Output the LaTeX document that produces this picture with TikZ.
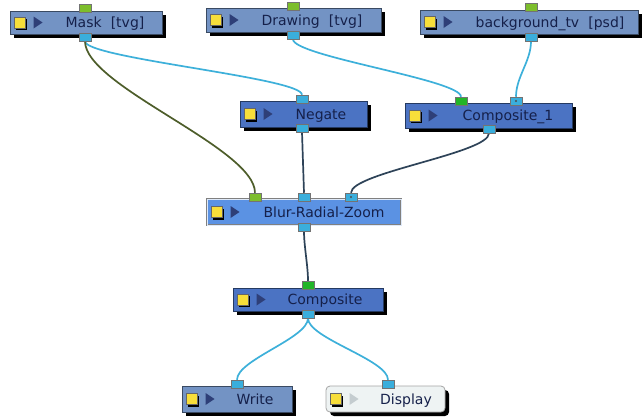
\documentclass[tikz,border=0pt]{standalone}
\usepackage{fontspec}
\setmainfont{DejaVu Sans}
\usetikzlibrary{fit,shadows,calc}
\pgfdeclarelayer{background}
\pgfsetlayers{background,main}
\definecolor{tvgblue}{HTML}{7393C4}
\definecolor{fxblue}{HTML}{4B73C3}
\definecolor{selblue}{HTML}{5B92E3}
\definecolor{dispbg}{HTML}{EEF3F3}
\definecolor{portlime}{HTML}{7DBE2C}
\definecolor{portgreen}{HTML}{22B528}
\definecolor{portcyan}{HTML}{3AAEDC}
\definecolor{wirecyan}{HTML}{3DB0DA}
\definecolor{wireolive}{HTML}{4D5D2A}
\definecolor{wiredark}{HTML}{2E4358}
\definecolor{txtcol}{HTML}{15204A}
\definecolor{tricol}{HTML}{2E3F78}
\definecolor{trilight}{HTML}{C4CCCF}
\definecolor{iconyellow}{HTML}{F7DE3A}
\newcommand\fxnode[9]{%
  \node[#6, fit={(#2,#3)(#4,#5)}] (#1) {};
  \node[iconbox] (#1-icon) at ($(#1.west)+(10,0)$) {};
  \fill[#9] ($(#1.west)+(24,-6)$) -- ++(9,6) -- ++(-9,6) -- cycle;
  \node[lbl] (#1-label) at ($(#8,0 |- #1.center)+(0,5)$) {#7};
}
\begin{document}
\begin{tikzpicture}[x=1pt,y=-1pt,
  basebox/.style={inner sep=0pt, line width=0.8pt},
  shadowed/.style={drop shadow={shadow xshift=4pt, shadow yshift=-4pt, fill=black, opacity=1}},
  topbox/.style={basebox, shadowed, fill=tvgblue, draw=tvgblue!50!black},
  fxbox/.style={basebox, shadowed, fill=fxblue, draw=fxblue!50!black},
  selbox/.style={basebox, fill=selblue, draw=black!50, double=white!80!selblue, double distance=0.8pt},
  dispbox/.style={basebox, shadowed, fill=dispbg, draw=black!35, rounded corners=4pt},
  iconbox/.style={fill=iconyellow, draw=black!60, line width=0.4pt, minimum size=11pt, inner sep=0pt,
     drop shadow={shadow xshift=2pt, shadow yshift=-2pt, fill=black, opacity=1}},
  lbl/.style={anchor=base, font=\fontsize{14}{16}\selectfont, text=txtcol, inner sep=0pt},
  port/.style={draw=black!55, fill=#1, minimum width=12pt, minimum height=8pt, inner sep=0pt, line width=0.5pt},
  wire/.style={line width=1.7pt, draw=#1}]
\useasboundingbox (0,0) rectangle (642,416);

% nodes
\fxnode{mask}{10}{11}{162}{34}{topbox}{Mask\hspace{0.65em}[tvg]}{105}{tricol}
\fxnode{drawing}{206}{8}{381}{32}{topbox}{Drawing\hspace{0.65em}[tvg]}{312}{tricol}
\fxnode{bg}{420}{10}{638}{34}{topbox}{background\_tv\hspace{0.65em}[psd]}{550}{tricol}
\fxnode{neg}{240}{101}{367}{127}{fxbox}{Negate}{321}{tricol}
\fxnode{cone}{405}{103}{572}{128}{fxbox}{Composite\_1}{508}{tricol}
\fxnode{blur}{207}{199}{401}{225}{selbox}{Blur-Radial-Zoom}{324}{tricol}
\fxnode{comp}{233}{288}{383}{311}{fxbox}{Composite}{325}{tricol}
\fxnode{write}{182}{386}{292}{412}{topbox}{Write}{255}{tricol}
\fxnode{disp}{326}{386}{445}{412}{dispbox}{Display}{406}{trilight}

% ports
\node[port=portlime] (mask-in) at (85,8) {};
\node[port=portcyan] (mask-out) at (85,37) {};
\node[port=portlime] (drawing-in) at (293,6) {};
\node[port=portcyan] (drawing-out) at (293,35) {};
\node[port=portlime] (bg-in) at (531,7) {};
\node[port=portcyan] (bg-out) at (531,37) {};
\node[port=portcyan] (neg-in) at (302,99) {};
\node[port=portcyan] (neg-out) at (302,128) {};
\node[port=portgreen] (cone-a) at (461,101) {};
\node[port=portcyan] (cone-b) at (516,101) {};
\fill[black!70] (cone-b.center) circle (1.1pt);
\node[port=portcyan] (cone-out) at (489,129) {};
\node[port=portlime] (blur-a) at (255,197) {};
\node[port=portcyan] (blur-b) at (304,197) {};
\node[port=portcyan] (blur-c) at (351,197) {};
\fill[black!70] (blur-c.center) circle (1.1pt);
\node[port=portcyan] (blur-out) at (304,227) {};
\node[port=portgreen] (comp-in) at (308,285) {};
\node[port=portcyan] (comp-out) at (308,314) {};
\node[port=portcyan] (write-in) at (237,384) {};
\node[port=portcyan] (disp-in) at (388,384) {};

% connectors
\begin{pgfonlayer}{background}
\fill[white] (0,0) rectangle (642,416);
\draw[wire=wirecyan] (mask-out.south) .. controls +(0,17) and +(0,-17) .. (neg-in.north);
\draw[wire=wireolive] (mask-out.south) .. controls +(0,45) and +(0,-45) .. (blur-a.north);
\draw[wire=wirecyan] (drawing-out.south) .. controls +(0,17) and +(0,-17) .. (cone-a.north);
\draw[wire=wirecyan] (bg-out.south) .. controls +(0,20) and +(0,-20) .. (cone-b.north);
\draw[wire=wiredark] (neg-out.south) -- (blur-b.north);
\draw[wire=wiredark] (cone-out.south) .. controls +(0,20) and +(0,-20) .. (blur-c.north);
\draw[wire=wiredark] (blur-out.south) .. controls +(0,15) and +(0,-15) .. (comp-in.north);
\draw[wire=wirecyan] (comp-out.south) .. controls +(0,20) and +(0,-20) .. (write-in.north);
\draw[wire=wirecyan] (comp-out.south) .. controls +(0,20) and +(0,-20) .. (disp-in.north);
\end{pgfonlayer}
\end{tikzpicture}
\end{document}
